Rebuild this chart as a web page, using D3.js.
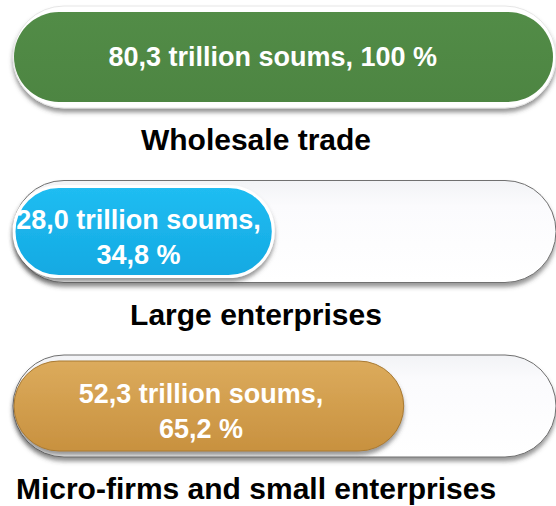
<!DOCTYPE html>
<html>
<head>
<meta charset="utf-8">
<script src="https://cdn.jsdelivr.net/npm/d3@7"></script>
<style>
  html, body { margin: 0; padding: 0; background: #fff; }
  svg { display: block; font-family: "Liberation Sans", Arial, sans-serif; }
</style>
</head>
<body>
<div id="viz"></div>
<script>
// data
const categories = ['Wholesale trade', 'Large enterprises', 'Micro-firms and small enterprises'];
const volumes = [80.3, 28.0, 52.3]; // trillion soums
const shares = [100, 34.8, 65.2];   // percent of wholesale trade
const fillColors = [
  ['#528c47', '#4d8542'],
  ['#20bdf2', '#14a9e2'],
  ['#dcab5c', '#c8913f']
];

const width = 556;
const height = 506;
const TRACK_H = 102;
const FILL_H = 90;
const trackX = 13;
const trackW = 543;
const fillX = 14;
const fillMax = 539;
const MIN_W = 110; // a capsule never gets shorter than its end caps

const svg = d3.select('#viz')
  .append('svg')
  .attr('width', width)
  .attr('height', height);

const y = d3.scalePoint().domain(categories).range([57, 406]);
const w = d3.scaleLinear().domain([0, 100]).range([MIN_W, fillMax]);

const fmtVolume = v => d3.format('.1f')(v).replace('.', ',');
const fmtShare = v => (Number.isInteger(v) ? String(v) : d3.format('.1f')(v).replace('.', ','));

const defs = svg.append('defs');

const shadow = defs.append('filter').attr('id', 'shadow')
  .attr('x', '-5%').attr('y', '-20%').attr('width', '110%').attr('height', '150%');
shadow.append('feDropShadow')
  .attr('dx', 0).attr('dy', 4).attr('stdDeviation', 2)
  .attr('flood-color', '#444').attr('flood-opacity', 0.55);

const trackGrad = defs.append('linearGradient').attr('id', 'track')
  .attr('x1', 0).attr('y1', 0).attr('x2', 0).attr('y2', 1);
trackGrad.append('stop').attr('offset', '0%').attr('stop-color', '#f2f3f6');
trackGrad.append('stop').attr('offset', '25%').attr('stop-color', '#fbfbfd');
trackGrad.append('stop').attr('offset', '100%').attr('stop-color', '#ffffff');

fillColors.forEach((c, i) => {
  const g = defs.append('linearGradient').attr('id', `fill${i}`)
    .attr('x1', 0).attr('y1', 0).attr('x2', 0).attr('y2', 1);
  g.append('stop').attr('offset', '0%').attr('stop-color', c[0]);
  g.append('stop').attr('offset', '100%').attr('stop-color', c[1]);
});

const rows = svg.selectAll('g.row')
  .data(categories)
  .enter()
  .append('g')
  .attr('class', 'row')
  .attr('transform', d => `translate(0,${y(d)})`);

// background track
rows.append('rect')
  .attr('x', trackX)
  .attr('y', -TRACK_H / 2)
  .attr('width', trackW)
  .attr('height', TRACK_H)
  .attr('rx', TRACK_H / 2)
  .attr('fill', (d, i) => (shares[i] >= 100 ? '#ffffff' : 'url(#track)'))
  .attr('stroke', (d, i) => (shares[i] >= 100 ? '#e6e6e6' : '#6f6f6f'))
  .attr('stroke-width', 1)
  .attr('filter', 'url(#shadow)');

// value capsule
rows.append('rect')
  .attr('x', fillX)
  .attr('y', -FILL_H / 2)
  .attr('width', (d, i) => w(shares[i]))
  .attr('height', FILL_H)
  .attr('rx', FILL_H / 2)
  .attr('fill', (d, i) => `url(#fill${i})`)
  .attr('stroke', (d, i) => (i === 1 ? '#ffffff' : i === 2 ? '#a87a33' : 'none'))
  .attr('stroke-width', (d, i) => (i === 1 ? 3 : 1))
  .attr('filter', (d, i) => (shares[i] >= 100 ? null : 'url(#shadow)'));

// value labels
rows.each(function (d, i) {
  const cx = fillX + w(shares[i]) * 0.48;
  const lines = shares[i] >= 100
    ? [`${fmtVolume(volumes[i])} trillion soums, ${fmtShare(shares[i])} %`]
    : [`${fmtVolume(volumes[i])} trillion soums,`, `${fmtShare(shares[i])} %`];
  const offsets = lines.length === 1 ? [9] : [-3, 32];
  d3.select(this).selectAll('text.value')
    .data(lines)
    .enter()
    .append('text')
    .attr('class', 'value')
    .attr('x', cx)
    .attr('y', (t, k) => offsets[k])
    .attr('text-anchor', 'middle')
    .attr('fill', '#ffffff')
    .attr('font-weight', 'bold')
    .attr('font-size', 27)
    .text(t => t);
});

// category labels
rows.append('text')
  .attr('x', 256)
  .attr('y', 93)
  .attr('text-anchor', 'middle')
  .attr('fill', '#000')
  .attr('font-weight', 'bold')
  .attr('font-size', 30)
  .text(d => d);
</script>
</body>
</html>
